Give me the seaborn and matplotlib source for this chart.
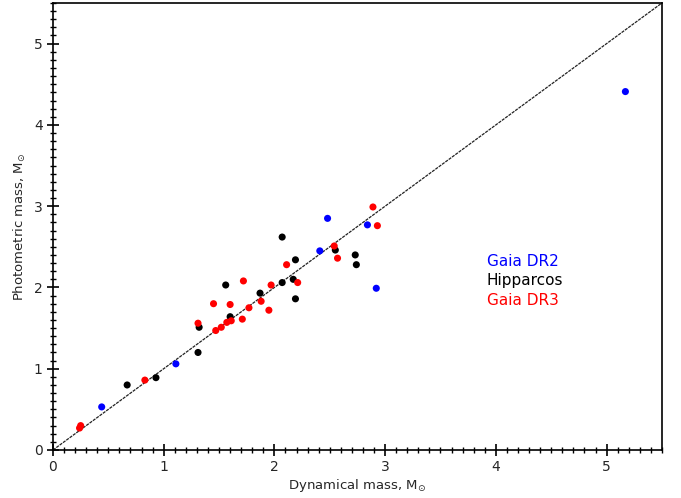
import matplotlib
matplotlib.use("Agg")
import matplotlib.pyplot as plt
from matplotlib.ticker import MultipleLocator
import seaborn as sns
import pandas as pd

# Gaia DR2 (blue)
dr2_dyn = [0.44, 1.11, 2.41, 2.48, 2.84, 2.92, 5.17]
dr2_phot = [0.53, 1.06, 2.45, 2.85, 2.77, 1.99, 4.41]
# Hipparcos (black)
hip_dyn = [0.67, 0.93, 1.31, 1.32, 1.56, 1.60, 1.87, 2.07, 2.07, 2.19, 2.17, 2.19, 2.55, 2.73, 2.74]
hip_phot = [0.80, 0.89, 1.20, 1.51, 2.03, 1.64, 1.93, 2.62, 2.06, 2.34, 2.10, 1.86, 2.46, 2.40, 2.28]
# Gaia DR3 (red)
dr3_dyn = [0.25, 0.24, 0.83, 1.31, 1.45, 1.47, 1.52, 1.60, 1.57, 1.61, 1.71, 1.72, 1.77, 1.88,
           1.95, 1.97, 2.11, 2.21, 2.54, 2.57, 2.89, 2.93]
dr3_phot = [0.30, 0.27, 0.86, 1.56, 1.80, 1.47, 1.51, 1.79, 1.57, 1.59, 1.61, 2.08, 1.75, 1.83,
            1.72, 2.03, 2.28, 2.06, 2.51, 2.36, 2.99, 2.76]

series_names = ["Gaia DR2", "Hipparcos", "Gaia DR3"]
series_colors = ["#0000ff", "#000000", "#ff0000"]

df = pd.concat([
    pd.DataFrame({"dyn": dr2_dyn, "phot": dr2_phot, "src": "Gaia DR2"}),
    pd.DataFrame({"dyn": hip_dyn, "phot": hip_phot, "src": "Hipparcos"}),
    pd.DataFrame({"dyn": dr3_dyn, "phot": dr3_phot, "src": "Gaia DR3"}),
], ignore_index=True)

sns.set_style("ticks")
plt.rcParams["font.family"] = ["DejaVu Sans"]

fig = plt.figure(figsize=(6.81, 4.98), dpi=100)
ax = fig.add_axes([0.0778, 0.0964, 0.972 - 0.0778, 0.994 - 0.0964])

lim = [0, 5.5]
ax.plot(lim, lim, color="#222222", lw=0.9, ls=(0, (2.5, 0.8)), zorder=1)

sns.scatterplot(data=df, x="dyn", y="phot", hue="src", hue_order=series_names,
                palette=series_colors, s=26, edgecolor="none", legend=False,
                ax=ax, zorder=2)

ax.set_xlim(0, 5.5)
ax.set_ylim(0, 5.5)
ax.xaxis.set_major_locator(MultipleLocator(1))
ax.yaxis.set_major_locator(MultipleLocator(1))
ax.xaxis.set_minor_locator(MultipleLocator(0.1))
ax.yaxis.set_minor_locator(MultipleLocator(0.1))
ax.tick_params(which="major", direction="inout", length=8, width=1.2, labelsize=10, color="black")
ax.tick_params(which="minor", direction="inout", length=5, width=1.0, color="black")
for sp in ax.spines.values():
    sp.set_linewidth(1.2)
    sp.set_color("black")

ax.set_xlabel(r"Dynamical mass, M$_{\odot}$", fontsize=9.5, labelpad=2)
ax.set_ylabel(r"Photometric mass, M$_{\odot}$", fontsize=9.5, labelpad=4)

label_y = [2.32, 2.08, 1.84]
for name, col, yy in zip(series_names, series_colors, label_y):
    ax.text(3.92, yy, name, color=col, fontsize=11, va="center", ha="left")

fig.savefig("out.png", dpi=100)
